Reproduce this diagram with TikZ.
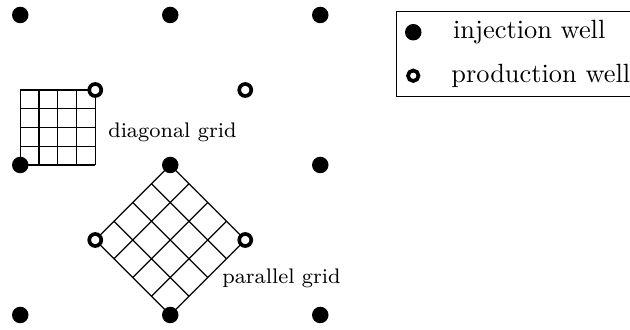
\documentclass[tikz,border=0pt]{standalone}
\usepackage{tikz}
\usetikzlibrary{positioning,fit}

\begin{document}
\begin{tikzpicture}[
  inj/.style={circle, fill=black, inner sep=0pt, minimum size=2.2mm},
  prod/.style={circle, draw=black, fill=white, line width=1.4pt, inner sep=0pt, minimum size=1.6mm},
  gridline/.style={black, line width=0.5pt},
  lab/.style={font=\footnotesize, anchor=west}]
  \useasboundingbox (-0.27,-0.2) rectangle (8.13,4.2);
  % square cells near the upper left pair
  \foreach \i in {0,...,4}{
    \draw[gridline] (\i/4,2) -- (\i/4,3);
    \draw[gridline] (0,2+\i/4) -- (1,2+\i/4);
  }
  % cells turned 45 degrees between the lower wells
  \foreach \i in {0,...,4}{
    \draw[gridline] (2-\i/4,\i/4) -- (3-\i/4,1+\i/4);
    \draw[gridline] (2+\i/4,\i/4) -- (1+\i/4,1+\i/4);
  }
  % wells
  \foreach \x in {0,2,4}
    \foreach \y in {0,2,4}
      \node[inj] (i\x\y) at (\x,\y) {};
  \foreach \x/\y in {1/1,3/1,1/3,3/3}
    \node[prod] (p\x\y) at (\x,\y) {};
  \node[lab] (dlab) at (1.05,2.44) {diagonal grid};
  \node[lab] (plab) at (2.57,0.49) {parallel grid};
  % legend
  \node[inj] (linj) at (5.24,3.77) {};
  \node[prod, minimum size=1.4mm] (lprod) at (5.24,3.19) {};
  \node[right=2.9mm of linj] (tinj) {injection well};
  \node[right=2.9mm of lprod] (tprod) {production well};
  \node[draw, fit=(linj)(lprod)(tinj)(tprod), inner xsep=1.1mm, inner ysep=0pt] (legend) {};
\end{tikzpicture}
\end{document}
